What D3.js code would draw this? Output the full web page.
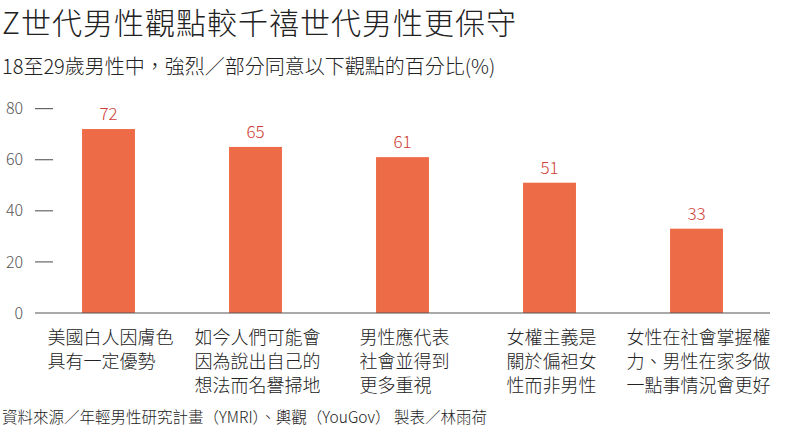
<!DOCTYPE html>
<html>
<head>
<meta charset="utf-8">
<script src="https://cdn.jsdelivr.net/npm/d3@7"></script>
<style>
  body { margin: 0; background: #fff; }
  svg { font-family: "Noto Sans CJK TC", "Noto Sans", sans-serif; font-weight: 300; }
</style>
</head>
<body>
<div id="chart"></div>
<script>
var categories = [
  ["美國白人因膚色", "具有一定優勢"],
  ["如今人們可能會", "因為說出自己的", "想法而名譽掃地"],
  ["男性應代表", "社會並得到", "更多重視"],
  ["女權主義是", "關於偏袒女", "性而非男性"],
  ["女性在社會掌握權", "力、男性在家多做", "一點事情況會更好"]
];
var values = [72, 65, 61, 51, 33];
var yTicks = [0, 20, 40, 60, 80];
var title = "Z世代男性觀點較千禧世代男性更保守";
var subtitle = "18至29歲男性中，強烈／部分同意以下觀點的百分比(%)";
var source = "資料來源／年輕男性研究計畫（YMRI）、輿觀（YouGov） 製表／林雨荷";

var width = 799, height = 432;
var svg = d3.select("#chart").append("svg")
    .attr("width", width)
    .attr("height", height);

svg.append("text")
    .attr("x", 2).attr("y", 34)
    .attr("font-size", 30).attr("letter-spacing", 1).attr("fill", "#222")
    .text(title);

svg.append("text")
    .attr("x", 2).attr("y", 74)
    .attr("font-size", 20).attr("fill", "#222")
    .text(subtitle);

var x = d3.scaleBand()
    .domain(d3.range(values.length))
    .range([35, 770])
    .paddingInner(0.64)
    .paddingOuter(0.32);

var y = d3.scaleLinear()
    .domain([0, 80])
    .range([313, 108.6]);

// y ticks: short dashes with labels to the left
var ticks = svg.append("g");
ticks.selectAll("line")
    .data(yTicks.filter(function(d) { return d > 0; }))
    .enter().append("line")
    .attr("x1", 35).attr("x2", 53)
    .attr("y1", function(d) { return y(d); })
    .attr("y2", function(d) { return y(d); })
    .attr("stroke", "#666").attr("stroke-width", 1.2);
ticks.selectAll("text")
    .data(yTicks)
    .enter().append("text")
    .attr("x", 23)
    .attr("y", function(d) { return y(d); })
    .attr("dy", "0.35em")
    .attr("text-anchor", "end")
    .attr("font-size", 16).attr("fill", "#555")
    .text(function(d) { return d; });

svg.selectAll("rect.bar")
    .data(values)
    .enter().append("rect")
    .attr("class", "bar")
    .attr("x", function(d, i) { return x(i); })
    .attr("width", x.bandwidth())
    .attr("y", function(d) { return y(d); })
    .attr("height", function(d) { return y(0) - y(d); })
    .attr("fill", "#ee6b47");

svg.append("line")
    .attr("x1", 35).attr("x2", 770)
    .attr("y1", y(0)).attr("y2", y(0))
    .attr("stroke", "#555").attr("stroke-width", 1.2);

svg.selectAll("text.val")
    .data(values)
    .enter().append("text")
    .attr("class", "val")
    .attr("x", function(d, i) { return x(i) + x.bandwidth() / 2; })
    .attr("y", function(d) { return y(d) - 15; })
    .attr("dy", "0.35em")
    .attr("text-anchor", "middle")
    .attr("font-size", 17).attr("fill", "#cf3e36")
    .text(function(d) { return d; });

// category labels: block centred under the bar, lines left-aligned
var labels = svg.selectAll("text.cat")
    .data(categories)
    .enter().append("text")
    .attr("class", "cat")
    .attr("font-size", 18).attr("fill", "#222");
labels.selectAll("tspan")
    .data(function(d, i) { return d.map(function(t) { return { t: t, i: i }; }); })
    .enter().append("tspan")
    .attr("y", function(d, j) { return 338 + j * 24; })
    .attr("dy", "0.35em")
    .text(function(d) { return d.t; });
labels.each(function(d, i) {
    var spans = d3.select(this).selectAll("tspan");
    var w = d3.max(spans.nodes(), function(n) { return n.getComputedTextLength(); });
    var left = x(i) + x.bandwidth() / 2 - w / 2 + 2;
    spans.attr("x", left);
});

svg.append("text")
    .attr("x", 2).attr("y", 418)
    .attr("dy", "0.35em")
    .attr("font-size", 15.5).attr("fill", "#222")
    .text(source);
</script>
</body>
</html>
